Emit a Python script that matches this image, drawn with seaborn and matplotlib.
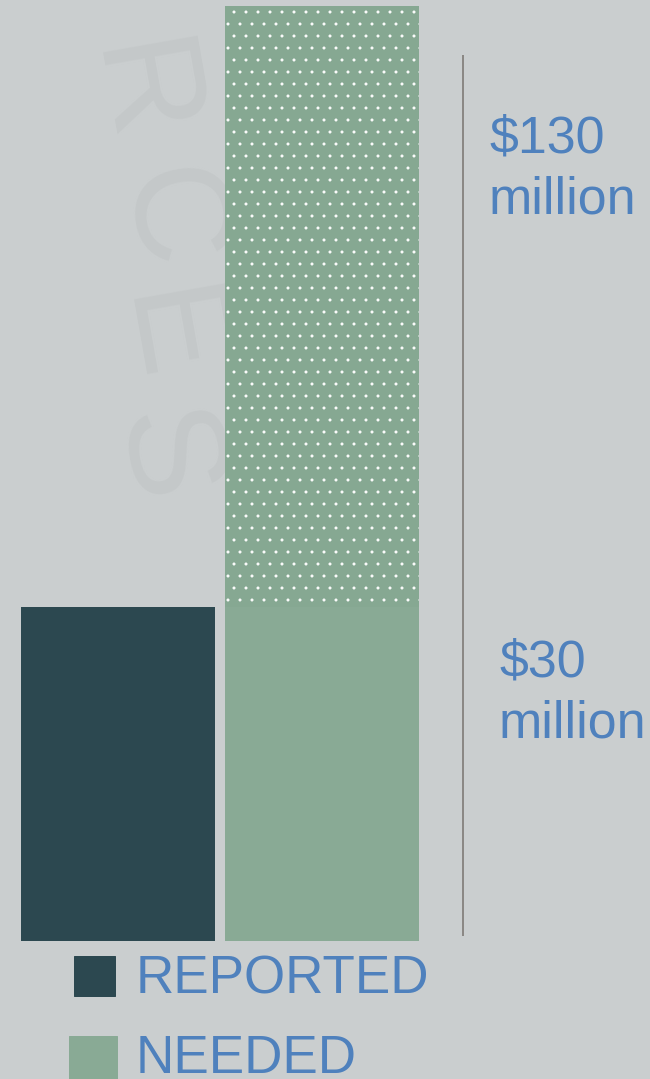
import matplotlib
matplotlib.use("Agg")
import matplotlib.pyplot as plt
from matplotlib.patches import Rectangle
import seaborn as sns
import pandas as pd

# values as drawn (the original bars are not to scale with the labels)
categories = ["REPORTED", "NEEDED"]
base_values = [30, 30]      # solid part of each bar
extra_values = [0, 54]      # dotted part stacked on the NEEDED bar
amount_labels = ["$130\nmillion", "$30\nmillion"]
legend_labels = ["REPORTED", "NEEDED"]

bar_colors = ["#2c4850", "#89aa95"]
dot_color = "#86a892"
text_blue = "#4f81bd"
bg = "#cacecf"

W, H, DPI = 650, 1079, 72

sns.set_style("white")
plt.rcParams["font.family"] = ["Liberation Sans", "DejaVu Sans"]
plt.rcParams["hatch.linewidth"] = 0.5

df = pd.DataFrame({"category": categories, "base": base_values, "extra": extra_values})
df["total"] = df["base"] + df["extra"]

fig = plt.figure(figsize=(W / DPI, H / DPI), dpi=DPI, facecolor=bg)

# faint seal watermark behind the bars
for ch, x, y in [("R", 135, 95), ("C", 165, 220), ("E", 165, 338), ("S", 160, 458)]:
    fig.text(x / W, 1 - y / H, ch, fontsize=140, color="#c4c8c9",
             rotation=-80, ha="center", va="center", zorder=-5)

ax = fig.add_axes([0, 0, 1, 1])
ax.set_facecolor("none")
ax.set_zorder(1)

# totals first (dotted), then the solid base on top
sns.barplot(data=df, x="category", y="total", hue="category",
            palette=[bar_colors[0], dot_color], saturation=1, width=0.951,
            linewidth=0, edgecolor="white", legend=False, ax=ax)
for i, p in enumerate(ax.patches):
    if df["extra"].iloc[i] > 0:
        p.set_hatch(".")
sns.barplot(data=df, x="category", y="base", hue="category",
            palette=bar_colors, saturation=1, width=0.951,
            linewidth=0, legend=False, ax=ax)

# pixel-matched limits
ax.set_xlim(-118 / 204, (W - 118) / 204)
ax.set_ylim(-(H - 941) / 11.13, 941 / 11.13)
ax.axis("off")

# bracket line next to the bars
ax.vlines((463 - 118) / 204, (941 - 936) / 11.13, (941 - 55) / 11.13,
          color="#77726d", linewidth=1.5)

fig.text(489 / W, 1 - 114 / H, amount_labels[0], fontsize=52, color=text_blue,
         ha="left", va="top", linespacing=1.32, zorder=3)
fig.text(499 / W, 1 - 638 / H, amount_labels[1], fontsize=52, color=text_blue,
         ha="left", va="top", linespacing=1.32, zorder=3)

# legend built by hand (the squares differ in size)
fig.add_artist(Rectangle((74 / W, 1 - 996 / H), 41 / W, 40 / H,
                         transform=fig.transFigure, color=bar_colors[0], zorder=3))
fig.add_artist(Rectangle((69 / W, 1 - 1085 / H), 48 / W, 49 / H,
                         transform=fig.transFigure, color=bar_colors[1], zorder=3))
fig.text(136 / W, 1 - 955 / H, legend_labels[0], fontsize=53, color=text_blue,
         ha="left", va="top", zorder=3)
fig.text(136 / W, 1 - 1034 / H, legend_labels[1], fontsize=53, color=text_blue,
         ha="left", va="top", zorder=3)

fig.savefig("out.png", dpi=DPI, facecolor=bg)
